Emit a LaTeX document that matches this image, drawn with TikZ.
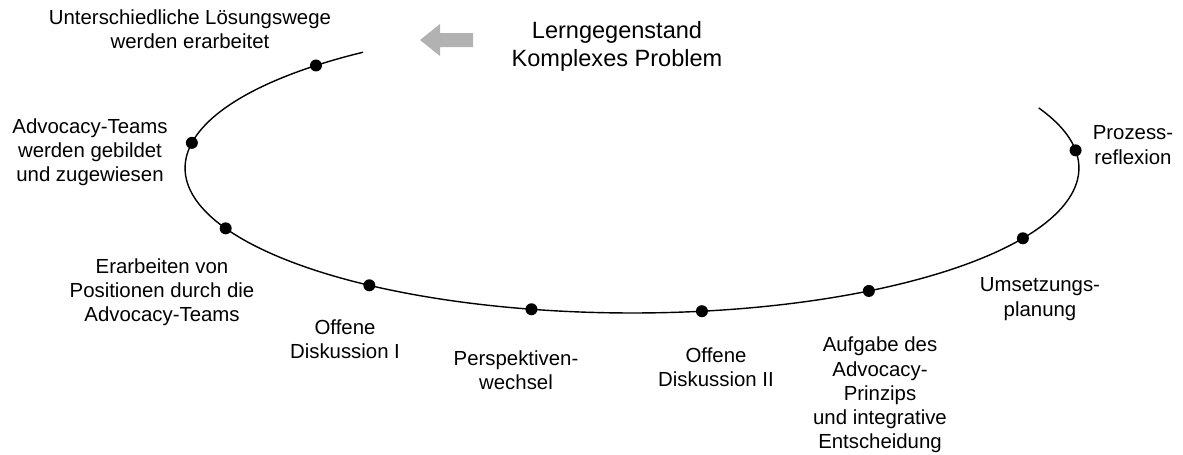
\documentclass[tikz,border=0pt]{standalone}
\usepackage{fontspec}
\setmainfont{Liberation Sans}
\usepackage{tikz}
\usetikzlibrary{positioning}

\begin{document}
\begin{tikzpicture}[
    x=0.02cm, y=-0.02cm,
    every node/.style={font=\fontsize{11.6}{13.8}\selectfont, align=center},
    punkt/.style={circle, fill=black, inner sep=0pt, minimum size=0.24cm},
    kreis/.style={line width=0.8pt}
]
\useasboundingbox (0,0) rectangle (1183,454);

% Ellipsenbogen
\coordinate (m) at (632,168);
\draw[kreis] (m) ++(127:8.94cm and 2.9cm) arc[start angle=127, end angle=384.5, x radius=8.94cm, y radius=2.9cm];

% Punkte auf dem Bogen
\foreach \w [count=\i] in {135,170,204.6,234,257,279,302,331,367}
  \path (m) ++(\w:8.94cm and 2.9cm) node[punkt] (p\i) {};

% Lerngegenstand mit Pfeil
\node[font=\fontsize{13.4}{16}\selectfont] (lern) at (617,46) {Lerngegenstand\\Komplexes Problem};
\fill[gray!60] (420,40) -- (440,24) -- (440,33) -- (473,33) -- (473,47) -- (440,47) -- (440,56) -- cycle;

% Phasen
\node (t1) at (190,29) {Unterschiedliche Lösungswege\\werden erarbeitet};
\node (t2) at (90,152) {Advocacy-Teams\\werden gebildet\\und zugewiesen};
\node (t3) at (162,292) {Erarbeiten von\\Positionen durch die\\Advocacy-Teams};
\node (t4) at (345,339) {Offene\\Diskussion I};
\node (t5) at (516,370) {Perspektiven-\\wechsel};
\node (t6) at (716,367) {Offene\\Diskussion II};
\node (t7) at (880,395) {Aufgabe des\\Advocacy-\\Prinzips\\und integrative\\Entscheidung};
\node (t8) at (1040,299) {Umsetzungs-\\planung};
\node (t9) at (1133,145) {Prozess-\\reflexion};

\end{tikzpicture}
\end{document}
